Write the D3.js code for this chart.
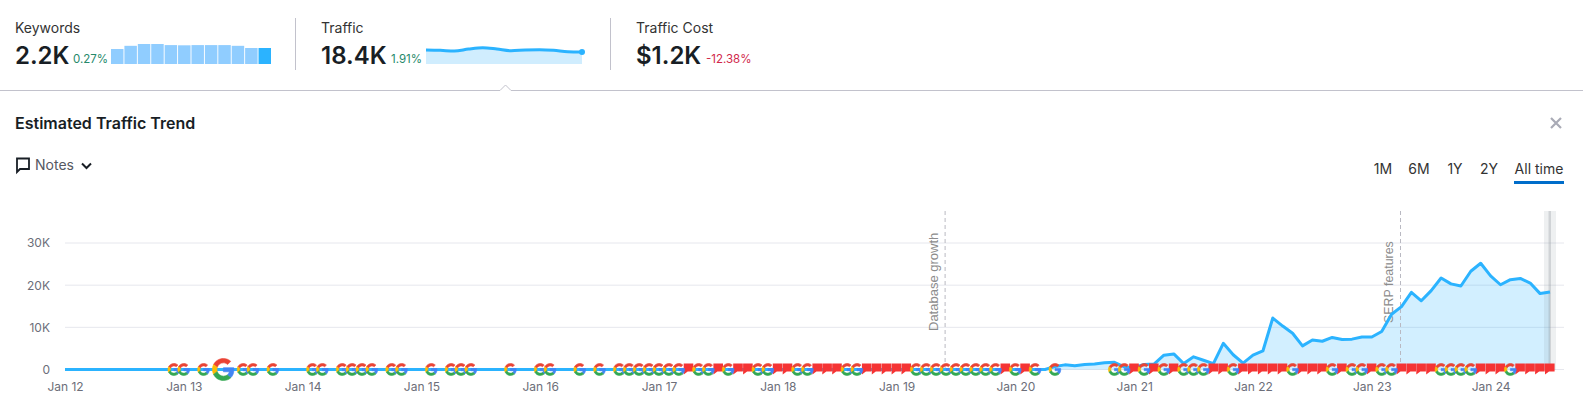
<!DOCTYPE html>
<html>
<head>
<meta charset="utf-8">
<title>Estimated Traffic Trend</title>
<script src="https://cdn.jsdelivr.net/npm/d3@7"></script>
<style>
  html, body { margin: 0; padding: 0; background: #fff; overflow: hidden; }
  svg { display: block; font-family: Inter, "Noto Sans", sans-serif; }
</style>
</head>
<body>
<div id="chart"></div>
<script>
// monthly traffic in thousands, index 0 = Jan 12, last = Jul 24
const traffic = [
  0,0,0,0,0,0,0,0,0,0,0,0,
  0,0,0,0,0,0,0,0,0,0,0,0,
  0,0,0,0,0,0,0,0,0,0,0,0,
  0,0,0,0,0,0,0,0,0,0,0,0,
  0,0,0,0,0,0,0,0,0,0,0,0,
  0,0,0,0,0,0,0,0,0,0,0,0,
  0,0,0,0,0,0,0,0,0,0,0,0,
  0,0,0,0,0,0,0,0,0,0,0,0,
  0,0,0,0,0.7,1.1,0.9,1.2,1.3,1.6,1.7,0.6,
  0.5,1.2,1.3,3.4,3.7,1.4,3.0,2.2,1.4,6.2,3.5,1.5,
  3.4,4.4,12.2,10.3,8.6,5.6,7.0,6.7,7.6,7.1,7.2,7.7,
  7.7,9.0,13.1,14.9,18.3,16.3,18.7,21.7,20.3,19.8,23.3,25.2,
  22.2,20.1,21.3,21.6,20.5,18.0,18.4
];
const yTicks = [0, 10, 20, 30];
const yTickLabels = ["0", "10K", "20K", "30K"];
const xTickMonths = [0, 12, 24, 36, 48, 60, 72, 84, 96, 108, 120, 132, 144];
const xTickLabels = ["Jan 12", "Jan 13", "Jan 14", "Jan 15", "Jan 16", "Jan 17", "Jan 18",
  "Jan 19", "Jan 20", "Jan 21", "Jan 22", "Jan 23", "Jan 24"];

// month indexes of the markers on the zero line
const googleMonths = [11,12,14,18,19,21,25,26,28,29,30,31,33,34,37,39,40,41,45,48,49,52,54,
  56,57,58,59,60,61,62,64,65,67,70,71,74,75,79,80,86,87,88,89,90,91,92,93,94,96,98,100,
  106,107,109,111,113,114,115,118,124,128,130,131,133,134,139,140,141,142,146];
const bigGoogleMonths = [16];
const flagMonths = [63,66,68,69,72,73,76,77,78,81,82,83,84,85,95,97,
  108,110,112,116,117,119,120,121,122,123,125,126,127,129,132,135,136,137,138,
  143,144,145,147,148,149,150];
const noteNames = ["Database growth", "SERP features"];
const noteMonths = [89, 135];
const noteFontSizes = [13, 12.4];

const keywordBars = [2.06, 2.5, 2.75, 2.75, 2.6, 2.57, 2.6, 2.6, 2.6, 2.5, 2.2, 2.2];
const trafficSpark = [21.5, 21, 19.9, 23, 25, 23, 20.4, 21.5, 21.9, 21, 18.9, 18.4];
const rangeTabs = ["1M", "6M", "1Y", "2Y", "All time"];
const rangeTabX = [1383, 1419, 1455, 1489, 1539];

const blue = "#2bb3ff";
const gray = "#6c6e79";
const dark = "#181e25";

const svg = d3.select("#chart").append("svg")
  .attr("width", 1583)
  .attr("height", 414);

function label(x, y, str, size, weight, color, anchor) {
  return svg.append("text")
    .attr("x", x)
    .attr("y", y)
    .attr("dominant-baseline", "central")
    .attr("text-anchor", anchor || "start")
    .style("font-size", size + "px")
    .style("font-weight", weight)
    .attr("fill", color)
    .text(str);
}

// ---- HEADER ----
label(15, 27.5, "Keywords", 14, 400, "#333");
label(15, 55.5, "2.2K", 24, 600, dark);
label(73, 59, "0.27%", 11.5, 400, "#26896b");
label(321, 27.5, "Traffic", 14, 400, "#333");
label(321, 55.5, "18.4K", 24, 600, dark);
label(391, 59, "1.91%", 11.5, 400, "#26896b");
label(636, 27.5, "Traffic Cost", 14, 400, "#333");
label(636, 55.5, "$1.2K", 24, 600, dark);
label(706, 59, "-12.38%", 11.5, 400, "#d1274a");

[295.5, 610.5].forEach(x => {
  svg.append("line")
    .attr("x1", x).attr("x2", x)
    .attr("y1", 18).attr("y2", 70)
    .attr("stroke", "#c2c2cc");
});

// keywords mini bars
const kwX = d3.scaleBand().domain(d3.range(keywordBars.length)).range([111, 271]).paddingInner(0.07);
const kwY = d3.scaleLinear().domain([0, 2.75]).range([64, 44]);
svg.selectAll(".kw")
  .data(keywordBars)
  .enter()
  .append("rect")
  .attr("class", "kw")
  .attr("x", (d, i) => kwX(i))
  .attr("y", d => kwY(d))
  .attr("width", kwX.bandwidth())
  .attr("height", d => 64 - kwY(d))
  .attr("fill", (d, i) => i === keywordBars.length - 1 ? blue : "#90cdff");

// traffic sparkline
const spX = d3.scaleLinear().domain([0, trafficSpark.length - 1]).range([426, 582]);
const spY = d3.scaleLinear().domain([0, 18.4]).range([64, 52]);
svg.append("path")
  .attr("d", d3.area().x((d, i) => spX(i)).y0(64).y1(d => spY(d)).curve(d3.curveMonotoneX)(trafficSpark))
  .attr("fill", "#d0edfe");
svg.append("path")
  .attr("d", d3.line().x((d, i) => spX(i)).y(d => spY(d)).curve(d3.curveMonotoneX)(trafficSpark))
  .attr("fill", "none")
  .attr("stroke", blue)
  .attr("stroke-width", 3);
svg.append("circle")
  .attr("cx", spX(trafficSpark.length - 1))
  .attr("cy", spY(18.4))
  .attr("r", 3)
  .attr("fill", blue);

// panel divider with the little caret
svg.append("path")
  .attr("d", "M0,90.5H500L505.5,85L511,90.5H1583")
  .attr("fill", "#fff")
  .attr("stroke", "#c2c2cc");

// ---- PANEL TITLE ROW ----
label(15, 123, "Estimated Traffic Trend", 16, 600, dark);
svg.append("path")
  .attr("d", "M1551,118L1561,128M1561,118L1551,128")
  .attr("stroke", "#a9abb6")
  .attr("stroke-width", 2.2);

svg.append("path")
  .attr("d", "M17,158.5H29V169H20L17,172Z")
  .attr("fill", "none")
  .attr("stroke", dark)
  .attr("stroke-width", 1.8);
label(35, 164, "Notes", 14, 400, "#555862");
svg.append("path")
  .attr("d", "M82,163.5L86.5,168L91,163.5")
  .attr("fill", "none")
  .attr("stroke", dark)
  .attr("stroke-width", 2);

rangeTabs.forEach((t, i) => label(rangeTabX[i], 168.5, t, 14, 400, "#333", "middle"));
svg.append("rect")
  .attr("x", 1514).attr("y", 181)
  .attr("width", 50).attr("height", 3)
  .attr("fill", "#006dca");

// ---- MAIN CHART ----
const x = d3.scaleLinear().domain([0, 150]).range([65, 1550]);
const y = d3.scaleLinear().domain([0, 30]).range([369.5, 243]);

const gridG = svg.append("g")
  .attr("transform", "translate(50,0)")
  .call(d3.axisLeft(y).tickValues(yTicks).tickFormat((d, i) => yTickLabels[i]).tickSize(0).tickPadding(0));
gridG.select(".domain").remove();
gridG.selectAll("text").attr("fill", gray).style("font-size", "12px").style("font-family", "Inter");
svg.append("g").selectAll("line")
  .data(yTicks)
  .enter()
  .append("line")
  .attr("x1", 65).attr("x2", 1564)
  .attr("y1", d => y(d)).attr("y2", d => y(d))
  .attr("stroke", "#e6e7ed");

const xAxis = svg.append("g")
  .attr("transform", "translate(0,382)")
  .call(d3.axisBottom(x).tickValues(xTickMonths).tickFormat((d, i) => xTickLabels[i]).tickSize(0).tickPadding(0));
xAxis.select(".domain").remove();
xAxis.selectAll("text").attr("fill", gray).style("font-size", "12px").style("font-family", "Inter");

svg.append("path")
  .attr("d", d3.area().x((d, i) => x(i)).y0(y(0)).y1(d => y(d))(traffic))
  .attr("fill", blue)
  .attr("fill-opacity", 0.21);

// hover band on the last month
svg.append("rect")
  .attr("x", x(150) - 6).attr("y", 211)
  .attr("width", 12).attr("height", 159)
  .attr("fill", "#8a9299").attr("fill-opacity", 0.14);
svg.append("rect")
  .attr("x", x(150) - 1.5).attr("y", 211)
  .attr("width", 2.5).attr("height", 159)
  .attr("fill", "#8a9299").attr("fill-opacity", 0.3);

noteMonths.forEach((m, i) => {
  svg.append("line")
    .attr("x1", x(m) - 1).attr("x2", x(m) - 1)
    .attr("y1", 211).attr("y2", 369)
    .attr("stroke", "#b9b9c2")
    .attr("stroke-dasharray", "4,3");
  svg.append("text")
    .attr("transform", `translate(${x(m) - 13},${i === 0 ? 331 : 323}) rotate(-90)`)
    .attr("dominant-baseline", "central")
    .style("font-family", "Liberation Sans")
    .style("font-size", noteFontSizes[i] + "px")
    .attr("fill", "#8c8c8c")
    .text(noteNames[i]);
});

svg.append("path")
  .attr("d", d3.line().x((d, i) => x(i)).y(d => y(d))(traffic))
  .attr("fill", "none")
  .attr("stroke", blue)
  .attr("stroke-width", 3)
  .attr("stroke-linejoin", "round");

// markers, drawn month by month so later ones sit on top
const gParts = [
  ["#EA4335", "M24 9.5c3.54 0 6.71 1.22 9.21 3.6l6.85-6.85C35.9 2.38 30.47 0 24 0 14.62 0 6.51 5.38 2.56 13.22l7.98 6.19C12.43 13.72 17.74 9.5 24 9.5z"],
  ["#4285F4", "M46.98 24.55c0-1.57-.15-3.09-.38-4.55H24v9.02h12.94c-.58 2.96-2.26 5.48-4.78 7.18l7.73 6c4.51-4.18 7.09-10.36 7.09-17.65z"],
  ["#FBBC05", "M10.53 28.59c-.48-1.45-.76-2.99-.76-4.59s.27-3.14.76-4.59l-7.98-6.19C.92 16.46 0 20.12 0 24c0 3.88.92 7.54 2.56 10.78l7.97-6.19z"],
  ["#34A853", "M24 48c6.48 0 11.93-2.13 16.02-5.81l-7.73-6c-2.15 1.45-4.92 2.3-8.3 2.3-6.26 0-11.57-4.22-13.47-9.91l-7.98 6.19C6.51 42.62 14.62 48 24 48z"]
];

function drawGoogle(m, size) {
  const g = svg.append("g")
    .attr("transform", `translate(${x(m) - size / 2},${y(0) - size / 2}) scale(${size / 48})`);
  gParts.forEach(p => g.append("path").attr("d", p[1]).attr("fill", p[0])
    .attr("stroke", p[0]).attr("stroke-width", 0.6 * 48 / size));
}

flagMonths.forEach(m => {
  svg.append("path")
    .attr("transform", `translate(${x(m) - 5},${y(0) - 6})`)
    .attr("d", "M0,0H9.6V8H4L0,11Z")
    .attr("fill", "#f53434");
});
googleMonths.forEach(m => drawGoogle(m, 12));
bigGoogleMonths.forEach(m => drawGoogle(m, 22));
</script>
</body>
</html>
